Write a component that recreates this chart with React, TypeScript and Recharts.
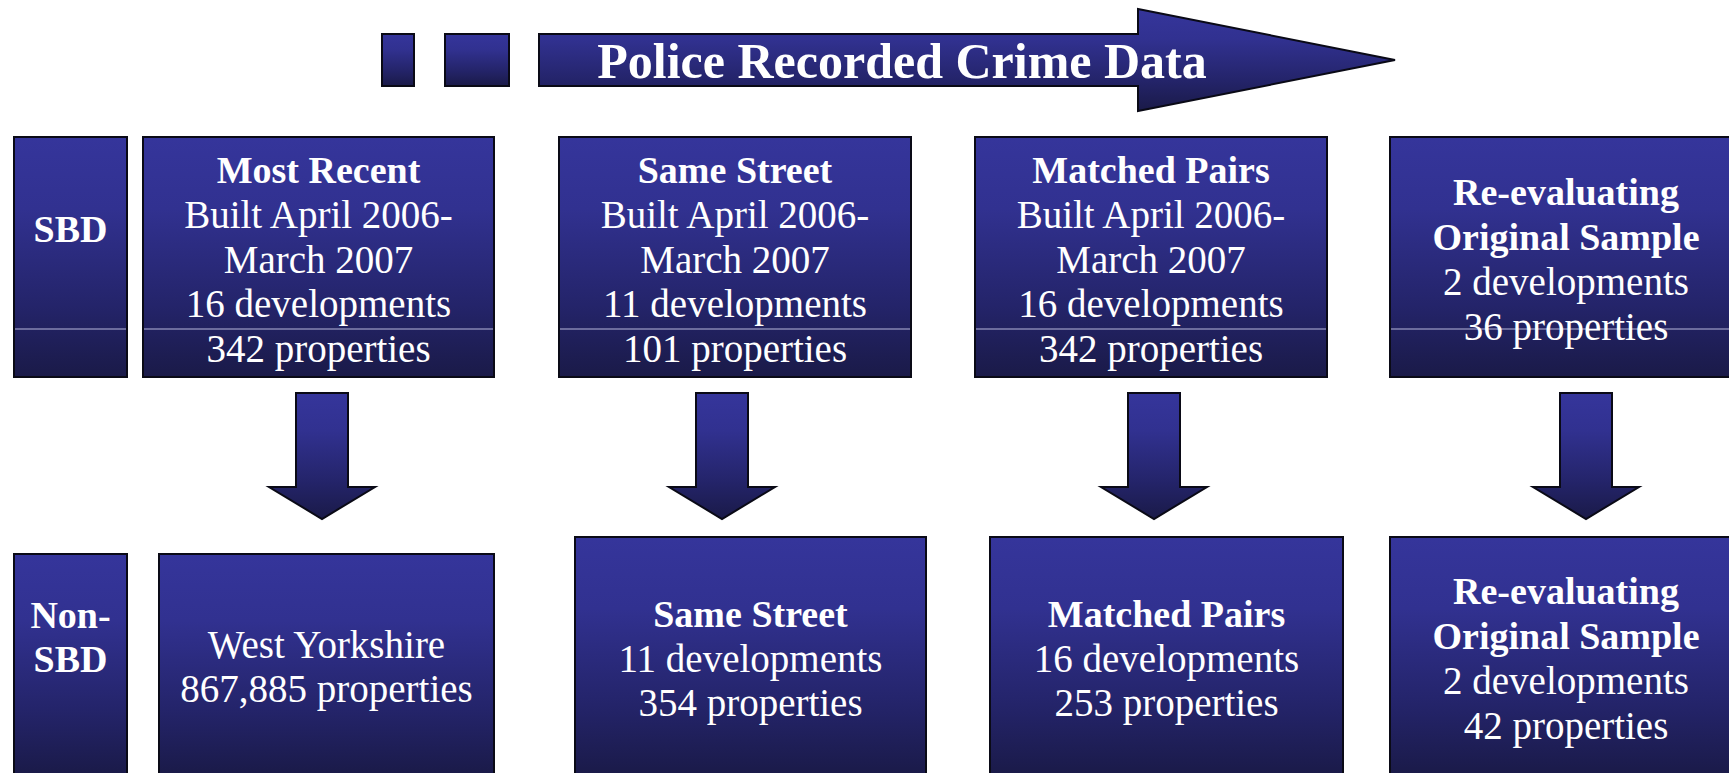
import { ScatterChart, Scatter, XAxis, YAxis } from 'recharts'

// content of the diagram
const title = 'Police Recorded Crime Data'
const rowLabels = [['SBD'], ['Non-', 'SBD']]
const stageLines = [['Most Recent'], ['Same Street'], ['Matched Pairs'], ['Re-evaluating', 'Original Sample']]
const sbdBuiltFrom = ['April 2006', 'April 2006', 'April 2006', '']
const sbdBuiltTo = ['March 2007', 'March 2007', 'March 2007', '']
const sbdDevelopments = [16, 11, 16, 2]
const sbdProperties = [342, 101, 342, 36]
const nonSbdArea = ['West Yorkshire', '', '', '']
const nonSbdDevelopments = [0, 11, 16, 2]
const nonSbdProperties = [867885, 354, 253, 42]

// layout (pixel units, the axes map 1:1)
const W = 1729
const H = 773
const LINE = 44.7
const FONT = "'Liberation Serif', 'Times New Roman', serif"
const topRow = { y0: 137, y1: 377, divider: 329 }
const topCols = [[143, 494], [559, 911], [975, 1327], [1390, 1742]]
const bottomCols = [[159, 494, 554], [575, 926, 537], [990, 1343, 537], [1390, 1742, 537]]
const bottomY1 = 776
const labelCol = [14, 127]
const arrowCx = [322, 722, 1154, 1586]
const arrowTop = 393
const arrowNeck = 487
const arrowTip = 519

type Line = { text: string; bold: boolean }

const fmt = (n: number) => n.toLocaleString('en-GB')

const topBoxes = stageLines.map((st, i) => {
  const lines: Line[] = st.map(t => ({ text: t, bold: true }))
  if (sbdBuiltFrom[i]) {
    lines.push({ text: `Built ${sbdBuiltFrom[i]}-`, bold: false })
    lines.push({ text: sbdBuiltTo[i], bold: false })
  }
  lines.push({ text: `${sbdDevelopments[i]} developments`, bold: false })
  lines.push({ text: `${fmt(sbdProperties[i])} properties`, bold: false })
  const [x0, x1] = topCols[i]
  return { id: `t${i}`, x: (x0 + x1) / 2, y: (topRow.y0 + topRow.y1) / 2, w: x1 - x0, h: topRow.y1 - topRow.y0, lines, divider: topRow.divider, offset: 15.5 }
})

const bottomBoxes = stageLines.map((st, i) => {
  const lines: Line[] = nonSbdArea[i] ? [{ text: nonSbdArea[i], bold: false }] : st.map(t => ({ text: t, bold: true }))
  if (nonSbdDevelopments[i]) lines.push({ text: `${nonSbdDevelopments[i]} developments`, bold: false })
  lines.push({ text: `${fmt(nonSbdProperties[i])} properties`, bold: false })
  const [x0, x1, y0] = bottomCols[i]
  return { id: `b${i}`, x: (x0 + x1) / 2, y: (y0 + bottomY1) / 2, w: x1 - x0, h: bottomY1 - y0, lines, divider: 0, offset: 15 }
})

const labelBoxes = rowLabels.map((l, i) => {
  const y0 = i === 0 ? topRow.y0 : bottomCols[0][2]
  const y1 = i === 0 ? topRow.y1 : bottomY1
  return {
    id: `l${i}`, x: (labelCol[0] + labelCol[1]) / 2, y: (y0 + y1) / 2, w: labelCol[1] - labelCol[0], h: y1 - y0,
    lines: l.map(t => ({ text: t, bold: true })), divider: i === 0 ? topRow.divider : 0, offset: -15,
  }
})

const arrows = arrowCx.map((cx, i) => ({ id: `a${i}`, x: cx, y: (arrowTop + arrowTip) / 2 }))

const banner = [{ id: 'banner', x: 902, y: 60 }]

const Grad = ({ id }: { id: string }) => (
  <defs>
    <linearGradient id={id} x1="0" y1="0" x2="0" y2="1">
      <stop offset="0%" stopColor="#35359b" />
      <stop offset="30%" stopColor="#313190" />
      <stop offset="70%" stopColor="#24246a" />
      <stop offset="100%" stopColor="#1a1a48" />
    </linearGradient>
  </defs>
)

const BoxShape = (props: any) => {
  const { cx, cy, payload } = props
  const { w, h, lines, divider, offset, id } = payload
  const x0 = cx - w / 2
  const y0 = cy - h / 2
  const n = lines.length
  return (
    <g>
      <Grad id={`g-${id}`} />
      <rect x={x0} y={y0} width={w} height={h} fill={`url(#g-${id})`} stroke="#0a0a16" strokeWidth={2} />
      {divider ? <line x1={x0 + 1} x2={x0 + w - 1} y1={divider} y2={divider} stroke="#b8b8dc" strokeWidth={1} /> : null}
      {lines.map((l: Line, k: number) => (
        <text
          key={k}
          x={cx}
          y={cy + offset + (k - (n - 1) / 2) * LINE}
          textAnchor="middle"
          fill="#ffffff"
          fontFamily={FONT}
          fontSize={l.bold ? 38 : 39}
          fontWeight={l.bold ? 700 : 400}
        >
          {l.text}
        </text>
      ))}
    </g>
  )
}

const DownArrow = (props: any) => {
  const { cx, cy, payload } = props
  const top = cy - (arrowTip - arrowTop) / 2
  const neck = top + (arrowNeck - arrowTop)
  const tip = top + (arrowTip - arrowTop)
  const pts = [
    [cx - 26, top], [cx + 26, top], [cx + 26, neck], [cx + 53, neck],
    [cx, tip], [cx - 53, neck], [cx - 26, neck],
  ].map(p => p.join(',')).join(' ')
  return (
    <g>
      <Grad id={`g-${payload.id}`} />
      <polygon points={pts} fill={`url(#g-${payload.id})`} stroke="#0a0a16" strokeWidth={2} />
    </g>
  )
}

const Banner = (props: any) => {
  const { cx, cy } = props
  // cx is the title centre, cy the arrow axis
  const bTop = cy - 26
  const bBot = cy + 26
  const body = [
    [cx - 363, bTop], [cx + 236, bTop], [cx + 236, cy - 51], [cx + 493, cy],
    [cx + 236, cy + 51], [cx + 236, bBot], [cx - 363, bBot],
  ].map(p => p.join(',')).join(' ')
  return (
    <g>
      <Grad id="g-banner" />
      <rect x={cx - 520} y={bTop} width={32} height={52} fill="url(#g-banner)" stroke="#0a0a16" strokeWidth={2} />
      <rect x={cx - 457} y={bTop} width={64} height={52} fill="url(#g-banner)" stroke="#0a0a16" strokeWidth={2} />
      <polygon points={body} fill="url(#g-banner)" stroke="#0a0a16" strokeWidth={2} />
      <text x={cx} y={cy + 18} textAnchor="middle" fill="#ffffff" fontFamily={FONT} fontSize={50} fontWeight={700}>
        {title}
      </text>
    </g>
  )
}

export default function App() {
  return (
    <div style={{ position: 'fixed', left: 0, top: 0, width: W, height: H, background: '#ffffff' }}>
      <ScatterChart width={W} height={H} margin={{ top: 0, right: 0, bottom: 0, left: 0 }}>
        <XAxis type="number" dataKey="x" domain={[0, W]} hide />
        <YAxis type="number" dataKey="y" domain={[0, H]} reversed hide />
        <Scatter data={banner} shape={<Banner />} isAnimationActive={false} />
        <Scatter data={labelBoxes} shape={<BoxShape />} isAnimationActive={false} />
        <Scatter data={topBoxes} shape={<BoxShape />} isAnimationActive={false} />
        <Scatter data={arrows} shape={<DownArrow />} isAnimationActive={false} />
        <Scatter data={bottomBoxes} shape={<BoxShape />} isAnimationActive={false} />
      </ScatterChart>
    </div>
  )
}
